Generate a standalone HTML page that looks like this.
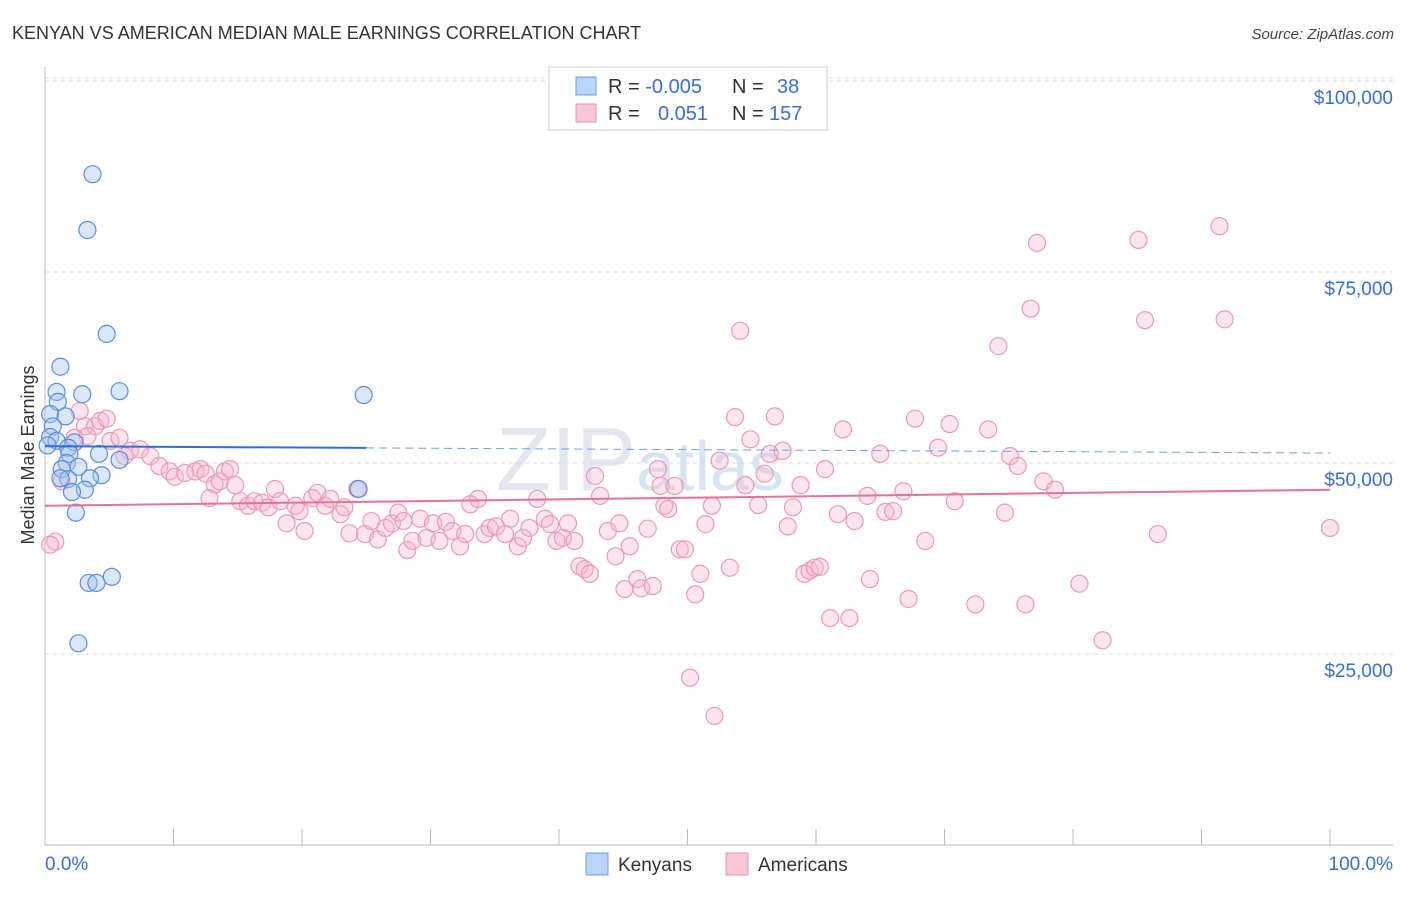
<!DOCTYPE html>
<html><head><meta charset="utf-8"><style>
body{margin:0;background:#fff;font-family:"Liberation Sans",sans-serif}
svg text{font-family:"Liberation Sans",sans-serif}
</style></head><body>
<svg id="c" width="1406" height="892">
<text x="12" y="39" font-size="18" fill="#333">KENYAN VS AMERICAN MEDIAN MALE EARNINGS CORRELATION CHART</text>
<text x="1394" y="39" font-size="15" fill="#444" text-anchor="end" font-style="italic">Source: ZipAtlas.com</text>
<text x="34" y="455" font-size="18" fill="#333" text-anchor="middle" transform="rotate(-90 34 455)">Median Male Earnings</text>
<text x="640" y="490" font-size="90" fill="#e4e8ee" font-family="Liberation Serif" text-anchor="middle">ZIP<tspan fill="#d8e4f4" font-family="Liberation Sans" font-size="70">atlas</tspan></text>
<g id="grid"></g><g id="axes"></g><g id="pts"></g><g id="lines"></g>
<g>
<rect x="549" y="67" width="278" height="63" fill="#fff" stroke="#ccc"/>
<rect x="576" y="77" width="20" height="18" fill="#b8d4f6" stroke="#6f9fe0"/>
<rect x="576" y="104" width="20" height="18" fill="#f9c6d6" stroke="#eb92b2"/>
<text x="608" y="93" font-size="20" fill="#333">R = <tspan fill="#3a6fd0">-0.005</tspan><tspan x="732">N = </tspan><tspan fill="#3a6fd0" x="777">38</tspan></text>
<text x="608" y="120" font-size="20" fill="#333">R = <tspan fill="#3a6fd0" x="658">0.051</tspan><tspan x="732">N = </tspan><tspan fill="#3a6fd0" x="769">157</tspan></text>
</g>
<g>
<rect x="586" y="853" width="22" height="22" fill="#b8d4f6" stroke="#6f9fe0"/>
<text x="618" y="871" font-size="19" fill="#333">Kenyans</text>
<rect x="726" y="853" width="22" height="22" fill="#f9c6d6" stroke="#eb92b2"/>
<text x="758" y="871" font-size="19" fill="#333">Americans</text>
</g>
</svg>
<script>
const kenX=[3.7,3.3,4.8,1.2,5.8,0.9,2.9,24.8,1.0,0.4,1.6,0.6,0.4,0.9,2.3,1.8,4.2,1.9,5.8,1.7,2.6,1.3,4.4,3.5,1.8,1.2,3.1,2.1,24.4,2.4,5.2,3.4,4.0,2.6,0.2];
const kenV=[87.8,80.5,66.9,62.6,59.4,59.3,59.0,58.9,58.0,56.4,56.1,54.8,53.4,52.9,52.7,52.0,51.2,51.2,50.4,50.0,49.5,49.2,48.4,48.0,47.9,48.0,46.5,46.2,46.6,43.5,35.1,34.3,34.3,26.4,52.3];
const amX=[0.8,0.4,1.3,3.1,2.7,3.9,4.3,4.8,3.3,2.3,5.1,5.8,6.6,7.4,8.2,6.2,8.9,9.7,10.1,10.9,11.7,12.1,12.5,13.2,13.6,14.0,14.4,14.8,12.8,15.2,15.8,16.3,16.9,17.4,17.9,18.3,18.8,19.5,19.8,20.2,20.8,21.2,21.8,22.2,23.0,23.3,23.7,24.3,24.9,25.4,25.9,26.5,27.0,27.5,27.9,28.2,28.6,29.2,29.7,30.2,30.7,31.2,31.7,32.3,32.7,33.1,33.7,34.2,34.6,35.1,35.8,36.2,36.8,37.2,37.7,38.3,38.9,39.3,39.8,40.3,40.7,41.2,41.6,42.0,42.4,42.8,43.2,43.8,44.4,44.7,45.1,45.5,46.1,46.4,46.9,47.3,47.7,47.9,48.2,48.5,49.0,49.4,49.8,50.2,50.6,51.0,51.4,51.9,52.1,52.5,53.3,53.7,54.1,54.5,54.9,55.5,56.0,56.4,56.8,57.4,57.8,58.2,58.8,59.1,59.5,59.9,60.3,60.7,61.1,61.7,62.1,62.6,63.0,64.0,64.2,65.0,65.4,66.0,66.8,67.2,67.7,68.5,69.5,70.4,70.8,72.4,73.4,74.2,74.7,75.1,75.7,76.3,76.7,77.2,77.7,78.6,80.5,82.3,85.1,85.6,86.6,91.4,91.8,100];
const amV=[39.7,39.3,47.6,54.8,56.8,54.8,55.5,55.8,53.5,53.3,52.9,53.3,51.6,51.8,50.9,50.9,49.6,48.9,48.2,48.7,48.9,49.2,48.6,47.2,47.6,48.9,49.2,47.1,45.4,45.0,44.4,45.0,44.8,44.2,46.6,45.0,42.1,44.4,43.7,41.1,45.4,46.1,44.4,45.3,43.3,44.2,40.8,46.6,40.7,42.4,40.0,41.5,42.1,43.5,42.4,38.6,39.8,42.7,40.2,42.1,39.8,42.3,41.1,39.1,40.7,44.6,45.3,40.7,41.5,41.7,40.7,42.7,39.1,40.2,41.5,45.3,42.7,42.0,39.8,40.2,42.1,39.8,36.5,36.1,35.5,48.3,45.7,41.1,37.8,42.1,33.5,39.1,34.8,33.6,41.4,33.9,49.2,47.0,44.4,44.0,47.0,38.7,38.7,21.9,32.8,35.5,42.0,44.4,16.9,50.3,36.3,56.0,67.3,47.1,53.1,44.5,48.6,51.2,56.1,51.6,41.7,44.2,47.1,35.5,35.9,36.3,36.4,49.2,29.7,43.3,54.4,29.7,42.4,45.7,34.8,51.2,43.6,43.7,46.3,32.2,55.8,39.8,52.0,55.1,45.0,31.5,54.4,65.3,43.5,50.9,49.6,31.5,70.2,78.8,47.6,46.5,34.2,26.8,79.2,68.7,40.7,81.0,68.8,41.5];
const yTicks=[25,50,75,100];
const yTickLabels=["$25,000","$50,000","$75,000","$100,000"];
const kenTrend=[52.2,51.3];
const amTrend=[44.4,46.5];
const NS="http://www.w3.org/2000/svg";
const X=p=>45+p*12.85, Y=v=>845-v*7.64;
function mk(t,a,parent){const e=document.createElementNS(NS,t);for(const k in a)e.setAttribute(k,a[k]);document.getElementById(parent).appendChild(e);return e;}
yTicks.forEach((t,i)=>{
 const g=mk('line',{x1:45,x2:1393,y1:Y(t),y2:Y(t),stroke:'#ddd','stroke-dasharray':'4,4'},'grid');
 
 
 const l=mk('text',{x:1393,y:Y(t)+23,'font-size':19,fill:'#3a6fd0','text-anchor':'end'},'grid');
 l.textContent=yTickLabels[i];
 
 
});
const topGrid=mk('line',{x1:45,x2:1393,y1:78,y2:78,stroke:'#ddd','stroke-dasharray':'4,4'},'grid');


const ya=mk('line',{x1:45,x2:45,y1:67,y2:845,stroke:'#bbb'},'axes');


const xa=mk('line',{x1:45,x2:1393,y1:845,y2:845,stroke:'#bbb'},'axes');


for(let i=0;i<=10;i++){const t=mk('line',{x1:X(i*10),x2:X(i*10),y1:829,y2:845,stroke:'#bbb'},'axes');
 
 }
const xl0=mk('text',{x:45,y:870,'font-size':19,fill:'#3a6fd0'},'axes');xl0.textContent='0.0%';


const xl1=mk('text',{x:1393,y:870,'font-size':19,fill:'#3a6fd0','text-anchor':'end'},'axes');xl1.textContent='100.0%';


amX.forEach((x,i)=>{const c=mk('circle',{cx:X(x),cy:Y(amV[i]),r:8.5,fill:'rgba(248,180,202,0.35)',stroke:'#eb9ab8','stroke-width':1.2},'pts');
 
 });
kenX.forEach((x,i)=>{const c=mk('circle',{cx:X(x),cy:Y(kenV[i]),r:8.5,fill:'rgba(160,196,240,0.4)',stroke:'#5b8ee0','stroke-width':1.2},'pts');
 
 });
const kt=v=>kenTrend[0]+(kenTrend[1]-kenTrend[0])*v/100;
const k1=mk('line',{x1:X(0),y1:Y(kt(0)),x2:X(25),y2:Y(kt(25)),stroke:'#2f6fd6','stroke-width':2},'lines');


const k2=mk('line',{x1:X(25),y1:Y(kt(25)),x2:X(100),y2:Y(kt(100)),stroke:'#6f9fe0','stroke-width':1,'stroke-dasharray':'8,5'},'lines');


const a1=mk('line',{x1:X(0),y1:Y(amTrend[0]),x2:X(100),y2:Y(amTrend[1]),stroke:'#e8709a','stroke-width':2},'lines');


</script>
</body></html>
